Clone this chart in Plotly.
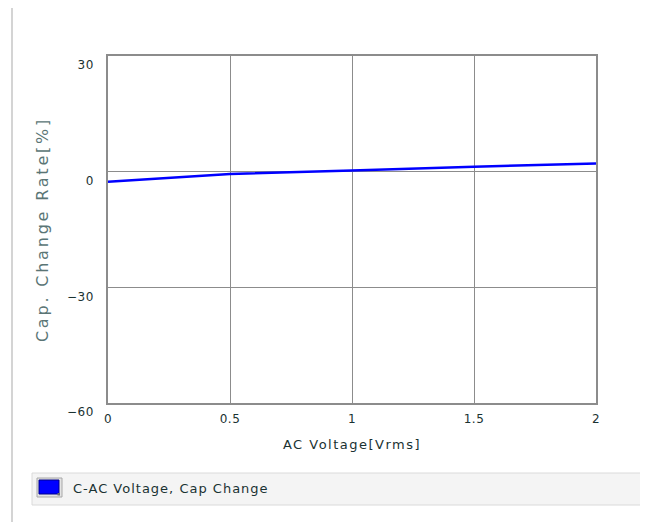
import plotly.graph_objects as go

# Data
voltage = [0, 0.5, 1.0, 1.5, 2.0]
cap_change = [-2.6, -0.6, 0.3, 1.3, 2.1]
series_name = "C-AC Voltage, Cap Change"
x_ticks = [0, 0.5, 1, 1.5, 2]
x_tick_labels = ["0", "0.5", "1", "1.5", "2"]
y_ticks = [30, 0, -30, -60]
y_tick_labels = ["30", "0", "\u221230", "\u221260"]

OFF = 8  # page offset of the figure inside the window
W, H = 648, 522
L, T = 108 - OFF, 56 - OFF
PW, PH = 488, 347
R, B = W - L - PW, H - T - PH

def px(x):
    return (x - OFF - L) / PW

def py(y):
    return (T + PH - (y - OFF)) / PH

FONT = "DejaVu Sans"
TXT = "#1a3232"

def spaced(s, sp):
    return '<span style="letter-spacing:%spx">%s</span>' % (sp, s)

fig = go.Figure()
fig.add_trace(go.Scatter(
    x=voltage, y=cap_change, mode="lines", name=series_name,
    line=dict(color="#0000ff", width=2.5), showlegend=False,
))

axis_common = dict(
    showgrid=True, gridcolor="#8c8c8c", gridwidth=1.2,
    showline=True, linecolor="#8c8c8c", linewidth=1.5, mirror=True,
    zeroline=False, ticks="",
    tickfont=dict(family=FONT, size=12, color=TXT),
)

fig.update_layout(
    width=W, height=H,
    margin=dict(l=L, r=R, t=T, b=B),
    paper_bgcolor="white", plot_bgcolor="white",
    font=dict(family=FONT, size=12, color=TXT),
    xaxis=dict(range=[0, 2], tickvals=x_ticks,
               ticktext=[spaced(t, 0.5) for t in x_tick_labels],
               ticklabelstandoff=4,
               title=dict(text=spaced("AC Voltage[Vrms]", 1.5), standoff=15,
                          font=dict(family=FONT, size=13, color=TXT)),
               **axis_common),
    yaxis=dict(range=[-60, 30], tickvals=y_ticks,
               ticktext=[spaced(t, 0.5) for t in y_tick_labels],
               ticklabelshift=9, ticklabelstandoff=10,
               title=dict(text=spaced("Cap. Change Rate[%]", 2.8), standoff=14,
                          font=dict(family=FONT, size=16, color="#5a7575")),
               **axis_common),
)

shapes = []
# outer frame
shapes.append(dict(type="line", xref="paper", yref="paper",
                   x0=px(12), y0=py(530), x1=px(12), y1=py(4),
                   line=dict(color="#d4d4d4", width=2)))
shapes.append(dict(type="line", xref="paper", yref="paper",
                   x0=px(12), y0=py(4), x1=px(660), y1=py(4),
                   line=dict(color="#d4d4d4", width=2)))
# legend bar
shapes.append(dict(type="rect", xref="paper", yref="paper",
                   x0=px(32), y0=py(473), x1=px(660), y1=py(505),
                   fillcolor="#f4f4f4", line=dict(color="#dadada", width=1)))
# legend icon
shapes.append(dict(type="rect", xref="paper", yref="paper",
                   x0=px(37), y0=py(478), x1=px(62), y1=py(497),
                   fillcolor="#e4e4e4", line=dict(color="#a8a8a8", width=1)))
shapes.append(dict(type="rect", xref="paper", yref="paper",
                   x0=px(39), y0=py(480), x1=px(59), y1=py(494),
                   fillcolor="#0000ff", line=dict(color="#00008a", width=1)))
shapes.append(dict(type="rect", xref="paper", yref="paper",
                   x0=px(57.5), y0=py(493), x1=px(60), y1=py(495.5),
                   fillcolor="#707070", line=dict(width=0)))
fig.update_layout(shapes=shapes)

fig.add_annotation(x=px(71), y=py(489), xref="paper", yref="paper",
                   text=spaced(series_name, 1), showarrow=False,
                   xanchor="left", yanchor="middle",
                   font=dict(family=FONT, size=13, color=TXT))

fig.write_html("out.html")
